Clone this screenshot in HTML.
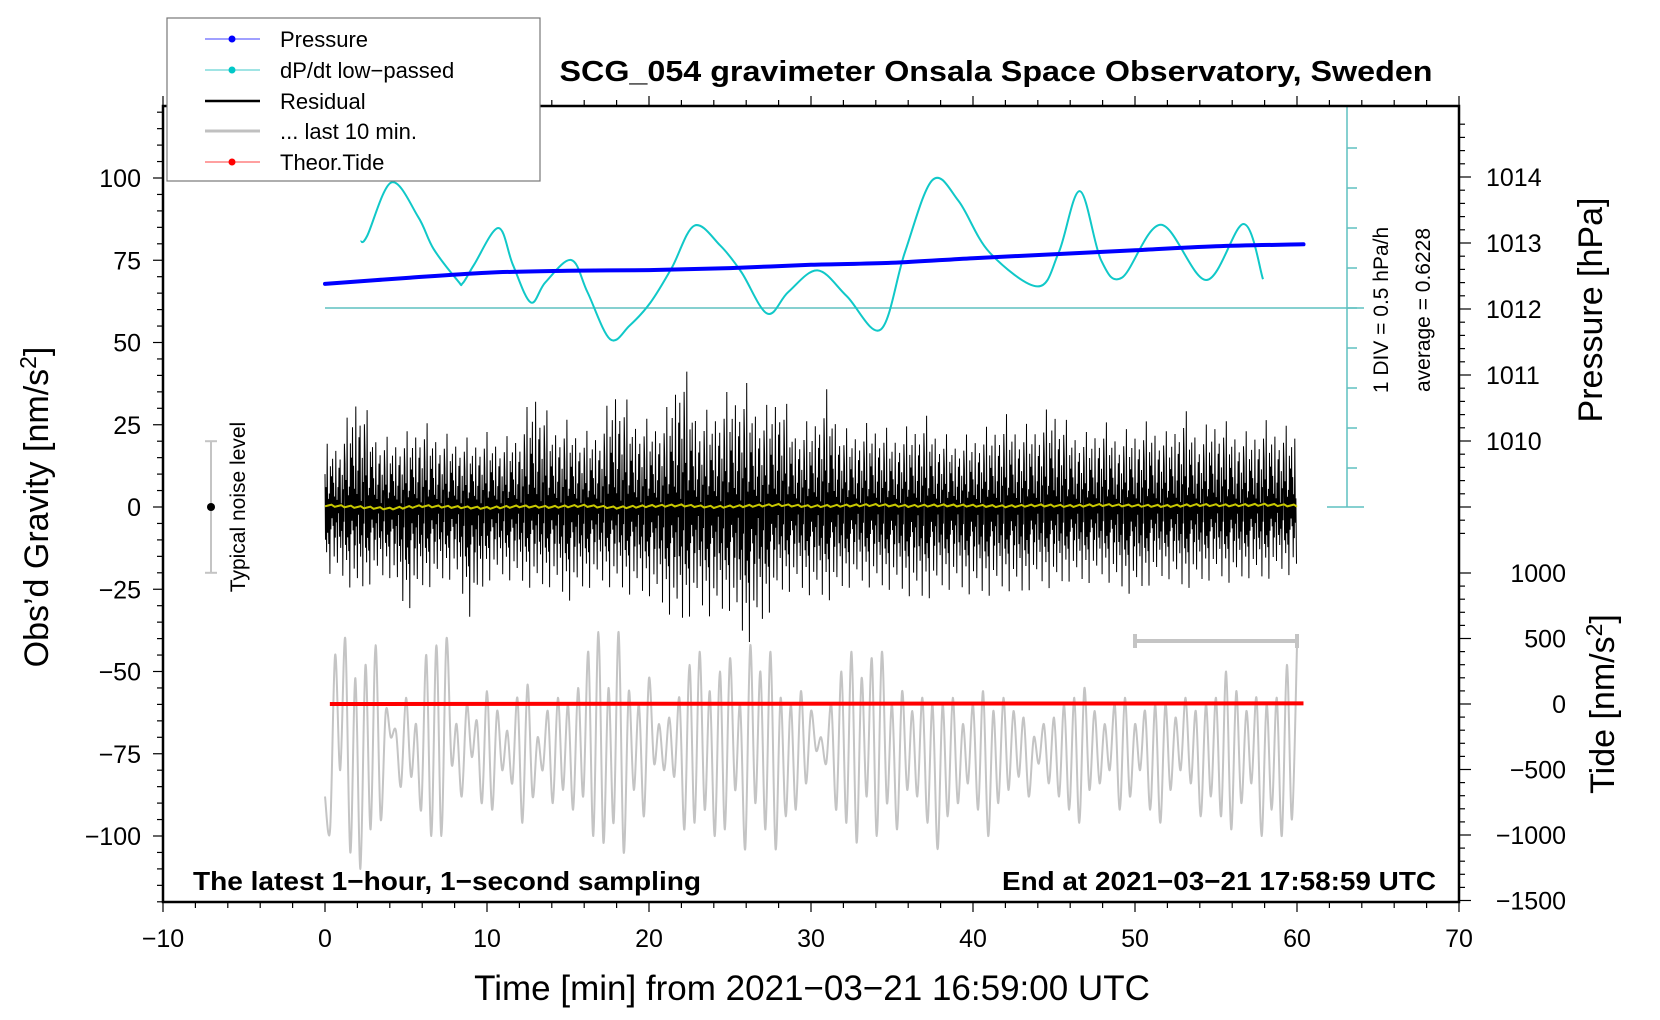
<!DOCTYPE html>
<html><head><meta charset="utf-8"><title>SCG_054 gravimeter</title>
<style>
html,body{margin:0;padding:0;background:#fff;}
svg{display:block;font-family:"Liberation Sans",sans-serif;}
</style></head>
<body>
<svg id="chart" width="1660" height="1020" viewBox="0 0 1660 1020" xmlns="http://www.w3.org/2000/svg">
<rect width="1660" height="1020" fill="#fff"/>
<g id="marks"></g>
<g id="axes"></g>
<text x="996" y="81" text-anchor="middle" font-size="29" font-weight="bold" textLength="873" lengthAdjust="spacingAndGlyphs">SCG_054 gravimeter Onsala Space Observatory, Sweden</text>
<text x="812" y="1000" text-anchor="middle" font-size="35">Time [min] from 2021−03−21 16:59:00 UTC</text>
<text transform="translate(48,507) rotate(-90)" text-anchor="middle" font-size="34">Obs’d Gravity [nm/s<tspan font-size="23" dy="-12">2</tspan><tspan dy="12">]</tspan></text>
<text transform="translate(1602,310) rotate(-90)" text-anchor="middle" font-size="34">Pressure [hPa]</text>
<text transform="translate(1614,704) rotate(-90)" text-anchor="middle" font-size="34">Tide [nm/s<tspan font-size="23" dy="-12">2</tspan><tspan dy="12">]</tspan></text>
<text transform="translate(1388,310) rotate(-90)" text-anchor="middle" font-size="21">1 DIV = 0.5 hPa/h</text>
<text transform="translate(1430,310) rotate(-90)" text-anchor="middle" font-size="21">average = 0.6228</text>
<text transform="translate(245,507) rotate(-90)" text-anchor="middle" font-size="21">Typical noise level</text>
<text x="193" y="890" font-size="26" font-weight="bold" textLength="508" lengthAdjust="spacingAndGlyphs">The latest 1−hour, 1−second sampling</text>
<text x="1436" y="890" text-anchor="end" font-size="26" font-weight="bold" textLength="434" lengthAdjust="spacingAndGlyphs">End at 2021−03−21 17:58:59 UTC</text>
<g>
<rect x="167" y="18" width="373" height="163" fill="#fff" stroke="#777" stroke-width="1.2"/>
<g><line x1="205" y1="39" x2="260" y2="39" stroke="#4040ff" stroke-width="1"/><circle cx="232" cy="39" r="3.5" fill="#0000ff"/><text x="280" y="47" font-size="22">Pressure</text></g>
<g><line x1="205" y1="70" x2="260" y2="70" stroke="#40c8c8" stroke-width="1"/><circle cx="232" cy="70" r="3.5" fill="#00c8c8"/><text x="280" y="78" font-size="22">dP/dt low−passed</text></g>
<g><line x1="205" y1="101" x2="260" y2="101" stroke="#000" stroke-width="2.5"/><text x="280" y="109" font-size="22">Residual</text></g>
<g><line x1="205" y1="131" x2="260" y2="131" stroke="#c0c0c0" stroke-width="3"/><text x="280" y="139" font-size="22">... last 10 min.</text></g>
<g><line x1="205" y1="162" x2="260" y2="162" stroke="#ff4040" stroke-width="1"/><circle cx="232" cy="162" r="3.5" fill="#ff0000"/><text x="280" y="170" font-size="22">Theor.Tide</text></g>
</g>
</svg>
<script>
// ---- data ----
const pressureTimes = [0,5,10,15,20,25,30,35,40,45,50,55,60.4];
const pressureValues = [1012.38,1012.47,1012.55,1012.58,1012.59,1012.62,1012.67,1012.70,1012.77,1012.83,1012.89,1012.95,1012.98];
const dpdtTimes = [2.2,2.6,4.1,5.75,6.7,8.2,8.5,9.2,10.7,11.6,12.7,13.6,15.2,16.2,17.6,18.8,20.1,21.4,22.8,24.4,25.7,27.3,28.6,30.4,32.2,34.3,35.8,37.5,39.1,41.0,44.0,45.3,46.6,47.9,49.2,51.6,54.4,56.7,57.9];
const dpdtValues = [0.83,0.9,1.57,1.14,0.74,0.34,0.31,0.54,1.0,0.54,0.07,0.32,0.6,0.2,-0.39,-0.22,0.07,0.5,1.03,0.78,0.45,-0.07,0.2,0.47,0.15,-0.27,0.7,1.6,1.34,0.7,0.27,0.7,1.46,0.6,0.38,1.04,0.35,1.05,0.36];
const residualHigh = [20,22,40,25,22,24,28,24,23,22,24,22,25,40,27,28,24,26,42,30,28,30,50,30,32,38,40,30,40,26,28,38,25,26,28,24,26,30,24,22,24,26,30,26,28,34,26,24,28,24,26,28,24,32,24,30,26,24,28,26,26];
const residualLow = [-22,-24,-30,-25,-24,-36,-28,-26,-24,-38,-25,-24,-26,-28,-27,-32,-28,-26,-28,-30,-30,-35,-40,-34,-38,-35,-47,-40,-30,-28,-30,-32,-28,-26,-28,-28,-30,-32,-28,-28,-30,-30,-28,-30,-26,-28,-25,-26,-24,-28,-30,-26,-24,-28,-26,-24,-26,-24,-25,-22,-24];
const residualPattern = [0.5,-0.45,0.3,-0.62,0.95,-0.35,0.12,-0.5,0.2,-0.9,0.6,-0.3,0.45,-0.15,0.7,-0.25,0.35,-0.65,0.15,-0.4,0.8,-0.2,0.1,-0.72,0.28,-0.08,0.55,-0.38,0.66,-0.52,0.05,-0.3,0.42,-0.85,0.22,-0.18,0.75];
const smoothValues = [0.5,0,-0.5,0.3,0,-0.3,0.2,0,0.4,-0.2,0.3,0.5,0,0.3,0.6,0.2,0.4,0.6,0.3,0.5,0.4,0.2,0.5,0.3,0.6,0.4,0.3,0.6,0.5,0.7,0.4];
const last10Values = [-88,-98,-45,-80,-40,-105,-52,-110,-48,-98,-42,-95,-62,-70,-68,-85,-58,-82,-66,-92,-45,-100,-42,-100,-40,-78,-66,-88,-60,-76,-65,-90,-56,-92,-62,-80,-68,-84,-58,-96,-54,-88,-70,-80,-62,-90,-58,-86,-60,-92,-55,-88,-44,-100,-38,-102,-55,-96,-38,-105,-56,-86,-60,-94,-52,-78,-66,-80,-64,-82,-58,-98,-48,-96,-44,-92,-56,-100,-50,-98,-46,-86,-60,-104,-42,-90,-50,-98,-44,-104,-58,-94,-60,-92,-56,-84,-62,-74,-70,-78,-60,-92,-50,-96,-44,-102,-52,-88,-46,-100,-44,-90,-60,-98,-56,-86,-62,-88,-58,-96,-60,-104,-60,-94,-58,-90,-66,-84,-60,-92,-56,-100,-62,-90,-58,-86,-62,-82,-64,-88,-70,-78,-66,-84,-64,-88,-60,-92,-58,-96,-55,-86,-62,-84,-66,-80,-60,-92,-58,-88,-66,-80,-62,-92,-60,-96,-60,-86,-64,-80,-58,-84,-62,-94,-60,-88,-58,-94,-50,-98,-56,-90,-62,-84,-58,-100,-60,-92,-58,-100,-48,-95,-42];
const tideTimes = [0.3,60.4];
const tideValues = [0,5];
const xTicks = [-10,0,10,20,30,40,50,60,70];
const yTicks = [-100,-75,-50,-25,0,25,50,75,100];
const pTicks = [1010,1011,1012,1013,1014];
const tTicks = [-1500,-1000,-500,0,500,1000];

// ---- scales ----
const X = t => 325 + 16.2*t;
const Y = g => 507 - 3.29*g;
const P = h => 177 + (1014-h)*66;
const T = v => 704 - v*0.131;
const D = v => 308 - v*80;
const NS = 'http://www.w3.org/2000/svg';
const marks = document.getElementById('marks');
const axes = document.getElementById('axes');
function mk(tag, attrs, parent){ const e=document.createElementNS(NS,tag); for(const k in attrs) e.setAttribute(k,attrs[k]); parent.appendChild(e); return e; }
function lerp(arr, t){ const i=Math.min(Math.floor(t), arr.length-2); const f=t-i; return arr[i]*(1-f)+arr[i+1]*f; }
function smoothPath(pts){
  let d='M'+pts[0][0].toFixed(1)+','+pts[0][1].toFixed(1);
  for(let i=0;i<pts.length-1;i++){
    const p0=pts[Math.max(0,i-1)],p1=pts[i],p2=pts[i+1],p3=pts[Math.min(pts.length-1,i+2)];
    const c1=[p1[0]+(p2[0]-p0[0])/6,p1[1]+(p2[1]-p0[1])/6];
    const c2=[p2[0]-(p3[0]-p1[0])/6,p2[1]-(p3[1]-p1[1])/6];
    d+=' C'+c1[0].toFixed(1)+','+c1[1].toFixed(1)+' '+c2[0].toFixed(1)+','+c2[1].toFixed(1)+' '+p2[0].toFixed(1)+','+p2[1].toFixed(1);
  }
  return d;
}

// cyan scale bar
let bar = mk('g',{stroke:'#5fc0c0','stroke-width':1.5}, marks);


mk('line',{x1:1347,y1:106,x2:1347,y2:507},bar);
mk('line',{x1:1327,y1:106,x2:1364,y2:106},bar);
mk('line',{x1:1327,y1:507,x2:1364,y2:507},bar);
for(let k=1;k<10;k++){ mk('line',{x1:1347,y1:D(0)+(k-5)*40,x2:1357,y2:D(0)+(k-5)*40},bar); }
let base = mk('line',{x1:X(0),y1:D(0),x2:1364,y2:D(0),stroke:'#5fc0c0','stroke-width':1.5}, marks);



// last 10 min gray
let gpts = last10Values.map((v,i)=> [X(i*60/(last10Values.length-1)), Y(v)]);
let gray = mk('path',{d:smoothPath(gpts),fill:'none',stroke:'#c4c4c4','stroke-width':2,'stroke-linejoin':'round'},marks);



// gray scale bar
let gb = mk('g',{stroke:'#c4c4c4','stroke-width':4},marks);


mk('line',{x1:X(50),y1:641,x2:X(60),y2:641},gb);
mk('line',{x1:X(50),y1:634,x2:X(50),y2:648},gb);
mk('line',{x1:X(60),y1:634,x2:X(60),y2:648},gb);

// residual
let rp=[];
for(let s=0;s<3600;s+=2){
  const t=s/60; const f=residualPattern[(s/2)%residualPattern.length];
  const v = f>=0 ? f*lerp(residualHigh,t) : -f*lerp(residualLow,t);
  rp.push(X(t).toFixed(1)+','+Y(v).toFixed(1));
}
let res = mk('polyline',{points:rp.join(' '),fill:'none',stroke:'#000','stroke-width':1},marks);



// smoothed yellow
let yp=[];
for(let s=0;s<=300;s++){ const t=s*0.2; const v=lerp(smoothValues,t/2)+((s%3)-1)*0.3; yp.push(X(t).toFixed(1)+','+Y(v).toFixed(1)); }
let yl = mk('polyline',{points:yp.join(' '),fill:'none',stroke:'#c8c800','stroke-width':2},marks);



// dp/dt
let dpts = dpdtTimes.map((t,i)=>[X(t), D(dpdtValues[i])]);
let dl = mk('path',{d:smoothPath(dpts),fill:'none',stroke:'#10c8c8','stroke-width':2,'stroke-linejoin':'round'},marks);



// pressure
let ppts = pressureTimes.map((t,i)=>[X(t), P(pressureValues[i])]);
let pl = mk('path',{d:smoothPath(ppts),fill:'none',stroke:'#0000ff','stroke-width':4,'stroke-linecap':'round'},marks);



// tide
let tl = mk('line',{x1:X(tideTimes[0]),y1:T(tideValues[0]),x2:X(tideTimes[1]),y2:T(tideValues[1]),stroke:'#ff0000','stroke-width':4},marks);



// noise marker
let nm = mk('g',{},marks);


mk('line',{x1:211,y1:Y(20),x2:211,y2:Y(-20),stroke:'#c4c4c4','stroke-width':2},nm);
mk('line',{x1:205,y1:Y(20),x2:217,y2:Y(20),stroke:'#c4c4c4','stroke-width':2},nm);
mk('line',{x1:205,y1:Y(-20),x2:217,y2:Y(-20),stroke:'#c4c4c4','stroke-width':2},nm);
mk('circle',{cx:211,cy:Y(0),r:4,fill:'#000'},nm);

// frame
let fr = mk('rect',{x:163,y:106,width:1296,height:796,fill:'none',stroke:'#000','stroke-width':2.5},axes);


let tk = mk('g',{stroke:'#000','stroke-width':1.2},axes);


for(let t=-10;t<=70;t+=2){ const L=(t%10===0)?10:6; mk('line',{x1:X(t),y1:902,x2:X(t),y2:902+L},tk); mk('line',{x1:X(t),y1:106,x2:X(t),y2:106-L},tk); }
for(let g=-120;g<=120;g+=5){ const L=(g%25===0)?10:6; mk('line',{x1:163,y1:Y(g),x2:163-L,y2:Y(g)},tk); }
for(let h=1008.6;h<=1015.0;h+=0.2){ const r=Math.round(h*10)/10; const L=(Math.abs(r-Math.round(r))<0.01)?12:6; if(P(r)>=106&&P(r)<=560) mk('line',{x1:1459,y1:P(r),x2:1459+L,y2:P(r)},tk); }
for(let v=-1500;v<=1000;v+=100){ const L=(v%500===0)?12:6; mk('line',{x1:1459,y1:T(v),x2:1459+L,y2:T(v)},tk); }

// tick labels
xTicks.forEach(t=>{ const e=mk('text',{x:X(t),y:947,'text-anchor':'middle','font-size':25},axes); e.textContent=String(t).replace('-','−');
 
  });
yTicks.forEach(g=>{ const e=mk('text',{x:141,y:Y(g)+9,'text-anchor':'end','font-size':25},axes); e.textContent=String(g).replace('-','−');
 
  });
pTicks.forEach(h=>{ const e=mk('text',{x:1486,y:P(h)+9,'font-size':25},axes); e.textContent=String(h);
 
  });
tTicks.forEach(v=>{ const e=mk('text',{x:1566,y:T(v)+9,'text-anchor':'end','font-size':25},axes); e.textContent=String(v).replace('-','−');
 
  });
</script>
</body></html>
